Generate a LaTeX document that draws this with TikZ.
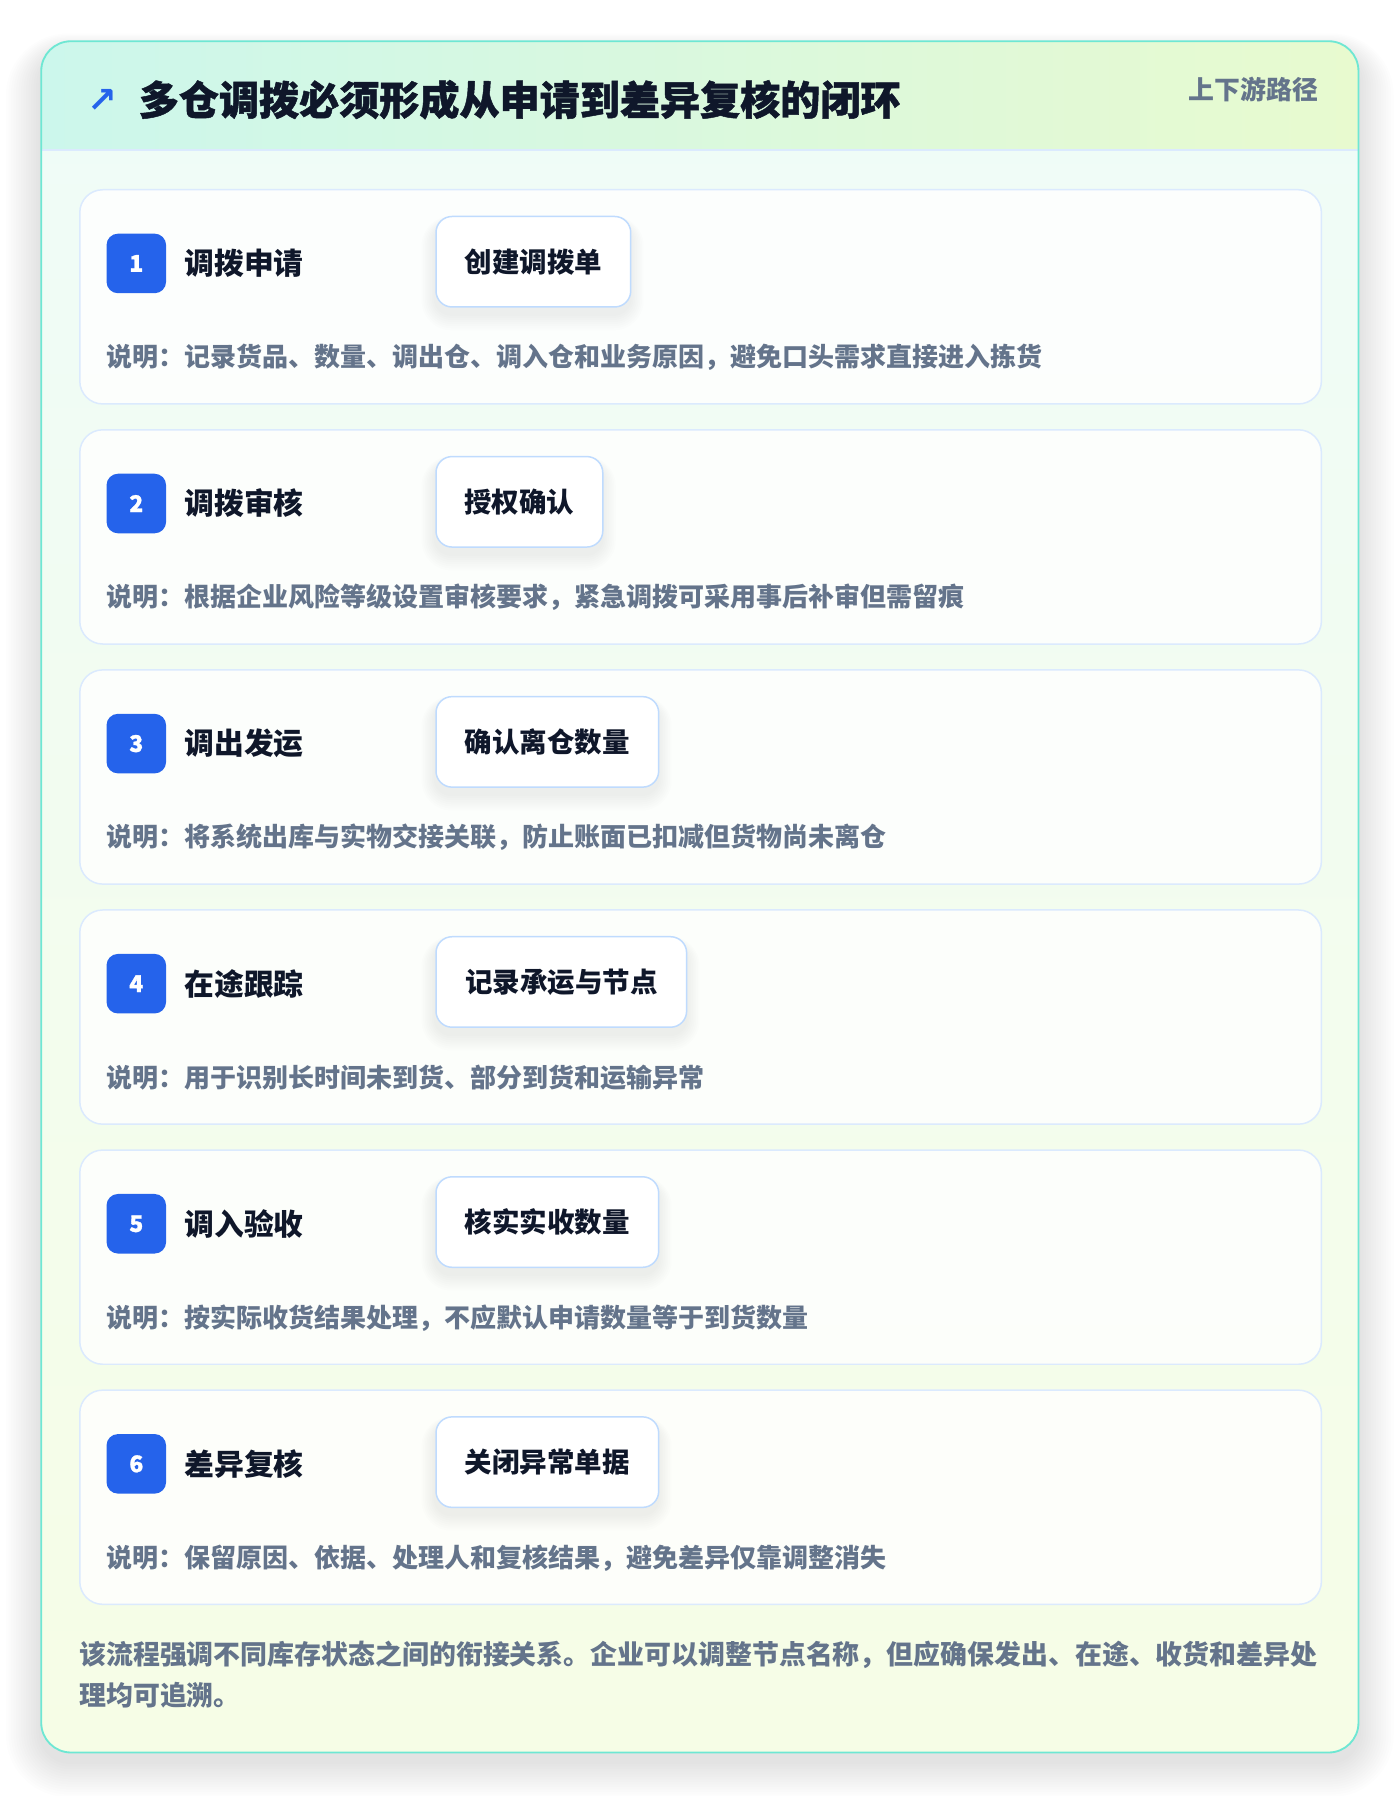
\documentclass[tikz,border=0pt]{standalone}
\usepackage{fontspec}
\setmainfont{Noto Sans CJK SC}
\newfontfamily\titlefont{Noto Sans CJK SC}[BoldFeatures={FakeBold=1.2}]
\newfontfamily\symfont{DejaVu Sans}
\definecolor{titleink}{HTML}{0F172A}
\definecolor{descgray}{HTML}{64748B}
\definecolor{badgeblue}{HTML}{2563EB}
\definecolor{boxline}{HTML}{BFDBFE}
\definecolor{cardline}{HTML}{DBEAFE}
\definecolor{tealb}{HTML}{6EE7D3}
\definecolor{headl}{HTML}{CCF7EC}
\definecolor{headr}{HTML}{E8FACF}
\definecolor{bodyt}{HTML}{EFFCF8}
\definecolor{bodyb}{HTML}{F6FDE6}
\tikzset{
  stepcard/.style={draw=cardline, line width=1.3pt, fill=white, fill opacity=0.8,
    rounded corners=20pt, minimum width=1084pt, minimum height=187pt, anchor=north west, inner sep=0},
  badge/.style={fill=badgeblue, rounded corners=10pt, minimum width=52pt, minimum height=52pt,
    text=white, font=\titlefont\bfseries\fontsize{20}{20}\selectfont, inner sep=0},
  steptitle/.style={anchor=west, text=titleink, font=\bfseries\fontsize{26}{30}\selectfont, inner sep=0},
  actbox/.style={anchor=west, draw=boxline, line width=1.3pt, fill=white, rounded corners=14pt,
    minimum height=79pt, inner sep=0, font=\bfseries\fontsize{24}{28}\selectfont, text=titleink},
  softshadow/.style={fill=black, fill opacity=0.006},
  desc/.style={anchor=west, text=descgray, font=\bfseries\fontsize{22.7}{26}\selectfont, inner sep=0},
  foot/.style={anchor=west, text=descgray, font=\bfseries\fontsize{23.5}{28}\selectfont, inner sep=0},
}
\begin{document}
\begin{tikzpicture}[x=1pt,y=-1pt]
\useasboundingbox (0,0) rectangle (1222,1568);
\fill[white] (0,0) rectangle (1222,1568);
% outer soft shadow
\foreach \k in {1,...,14}{
  \fill[softshadow, rounded corners=26pt+\k*2pt] (36-\k*2.2,36-\k*1.2+10) rectangle (1186+\k*2.2,1530+\k*2.2+8);
}
% card body
\fill[top color=bodyt, bottom color=bodyb, rounded corners=26pt] (36,36) rectangle (1186,1530);
\begin{scope}
  \clip[rounded corners=26pt] (36,36) rectangle (1186,1530);
  \fill[left color=headl, right color=headr] (36,36) rectangle (1186,131);
\end{scope}
\draw[cardline, line width=1.6pt] (36.8,131) -- (1185.2,131);
\draw[tealb, line width=1.6pt, rounded corners=26pt] (36,36) rectangle (1186,1530);
% header
\node[text=badgeblue, font=\symfont\bfseries\fontsize{31}{31}\selectfont, inner sep=0] (icon) at (89,88) {↗};
\node[anchor=west, text=titleink, font=\titlefont\bfseries\fontsize{35}{40}\selectfont, inner sep=0] (title) at (121,87)
  {多仓调拨必须形成从申请到差异复核的闭环};
\node[anchor=east, text=descgray, font=\bfseries\fontsize{22.6}{26}\selectfont, inner sep=0] (tag) at (1151,78) {上下游路径};
% steps
\foreach \i/\n/\ttl/\act/\dsc in {
  1/5/调拨申请/创建调拨单/说明：记录货品、数量、调出仓、调入仓和业务原因，避免口头需求直接进入拣货,
  2/4/调拨审核/授权确认/说明：根据企业风险等级设置审核要求，紧急调拨可采用事后补审但需留痕,
  3/6/调出发运/确认离仓数量/说明：将系统出库与实物交接关联，防止账面已扣减但货物尚未离仓,
  4/7/在途跟踪/记录承运与节点/说明：用于识别长时间未到货、部分到货和运输异常,
  5/6/调入验收/核实实收数量/说明：按实际收货结果处理，不应默认申请数量等于到货数量,
  6/6/差异复核/关闭异常单据/说明：保留原因、依据、处理人和复核结果，避免差异仅靠调整消失}{
  \pgfmathsetmacro{\ytop}{165+(\i-1)*209.6}
  \pgfmathsetmacro{\bw}{24.4*\n+48}
  \node[stepcard] (card\i) at (69,\ytop) {};
  \node[badge] (badge\i) at (119,\ytop+65) {\i};
  \node[steptitle] (title\i) at (161,\ytop+65) {\ttl};
  \foreach \k in {1,...,8}{
    \fill[softshadow, fill opacity=0.007, rounded corners=14pt+\k*1.5pt]
      (380-\k*1.5,\ytop+24-\k*0.8+6) rectangle (380+\bw+\k*1.5,\ytop+103+\k*1.8+6);
  }
  \node[actbox, minimum width=\bw pt] (act\i) at (380,\ytop+63.5) {\act};
  \node[desc] (desc\i) at (93,\ytop+147) {\dsc};
}
% footer
\node[foot] (foot1) at (69,1445) {该流程强调不同库存状态之间的衔接关系。企业可以调整节点名称，但应确保发出、在途、收货和差异处};
\node[foot] (foot2) at (69,1480) {理均可追溯。};
\end{tikzpicture}
\end{document}
